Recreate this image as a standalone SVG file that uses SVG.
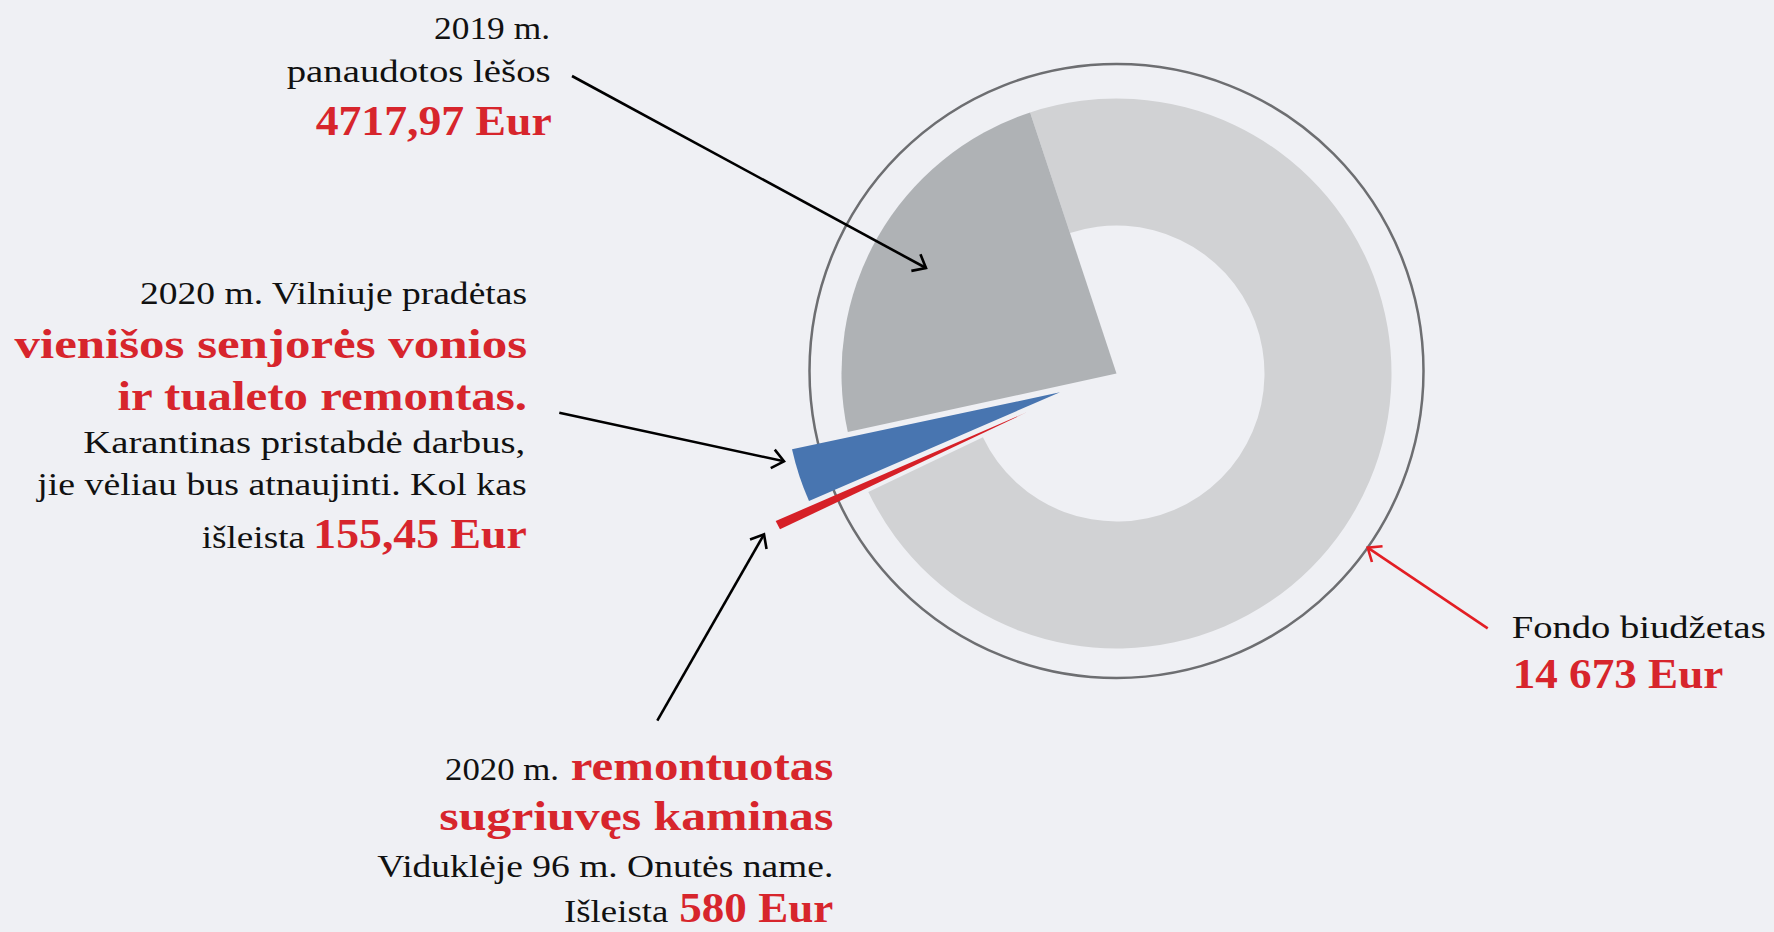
<svg xmlns="http://www.w3.org/2000/svg" width="1774" height="932" viewBox="0 0 1774 932">
  <style>
    .t { font-family: "Liberation Serif", "Times New Roman", serif; fill: #111111; font-size: 32px; }
    .r { font-family: "Liberation Serif", "Times New Roman", serif; fill: #d7252c; font-size: 43px; font-weight: bold; }
    .conn { fill: none; stroke-width: 2.6; }
    .blk { stroke: #000000; }
    .red { stroke: #e31e24; }
  </style>
  <defs>
    <marker id="ahBlack" viewBox="-14 -11 16 22" refX="0" refY="0" markerWidth="16" markerHeight="22" markerUnits="userSpaceOnUse" orient="auto" overflow="visible">
      <path d="M -11.5 -9.5 L 0 0 L -11.5 9.5" fill="none" stroke="#000000" stroke-width="2.6"/>
    </marker>
    <marker id="ahRed" viewBox="-14 -11 16 22" refX="0" refY="0" markerWidth="16" markerHeight="22" markerUnits="userSpaceOnUse" orient="auto" overflow="visible">
      <path d="M -11.5 -9.5 L 0 0 L -11.5 9.5" fill="none" stroke="#e31e24" stroke-width="2.6"/>
    </marker>
  </defs>
  <rect x="0" y="0" width="1774" height="932" fill="#eff0f4"/>

  <g id="budget-ring">
    <circle cx="1116.5" cy="371" r="307" fill="none" stroke="#6d6e71" stroke-width="2.5"/>
  </g>
  <g id="slice-remaining">
    <path d="M 1030.1 112.4 A 275 275 0 1 1 868.3 491.9 L 982.9 437.2 A 148 148 0 1 0 1070 233 Z" fill="#d1d2d4"/>
  </g>
  <g id="slice-2019">
    <path d="M 1116.5 373.5 L 847.8 432.1 A 275 275 0 0 1 1030.1 112.4 Z" fill="#afb2b5"/>
  </g>
  <g id="slice-vilnius">
    <path d="M 1060 392.3 L 792 449.3 A 274 274 0 0 0 809 501 Z" fill="#4875b0"/>
  </g>
  <g id="slice-chimney">
    <path d="M 1026.7 412.3 L 775.7 521 A 273 273 0 0 0 780 529.3 Z" fill="#d62027"/>
  </g>

  <g id="connectors">
    <line class="conn blk" x1="572" y1="76" x2="926" y2="268" marker-end="url(#ahBlack)"/>
    <line class="conn blk" x1="559.3" y1="412.7" x2="784" y2="461.3" marker-end="url(#ahBlack)"/>
    <line class="conn blk" x1="657.3" y1="720.7" x2="764" y2="534.3" marker-end="url(#ahBlack)"/>
    <line class="conn red" x1="1487.7" y1="628.3" x2="1367.7" y2="547.7" marker-end="url(#ahRed)"/>
  </g>

  <g id="label-2019">
    <text class="t" x="434" y="39.3" textLength="116" lengthAdjust="spacingAndGlyphs">2019 m.</text>
    <text class="t" x="286.7" y="81.7" textLength="264" lengthAdjust="spacingAndGlyphs">panaudotos lėšos</text>
    <text class="r" x="315.7" y="135" textLength="236" lengthAdjust="spacingAndGlyphs">4717,97 Eur</text>
  </g>

  <g id="label-vilnius">
    <text class="t" x="140" y="304.3" textLength="387" lengthAdjust="spacingAndGlyphs">2020 m. Vilniuje pradėtas</text>
    <text class="r" x="14.5" y="358.3" textLength="512.5" lengthAdjust="spacingAndGlyphs">vienišos senjorės vonios</text>
    <text class="r" x="117.5" y="410" textLength="409.5" lengthAdjust="spacingAndGlyphs">ir tualeto remontas.</text>
    <text class="t" x="83.3" y="453.3" textLength="442" lengthAdjust="spacingAndGlyphs">Karantinas pristabdė darbus,</text>
    <text class="t" x="37.3" y="495" textLength="489.4" lengthAdjust="spacingAndGlyphs">jie vėliau bus atnaujinti. Kol kas</text>
    <text class="t" x="201.7" y="548" textLength="103.3" lengthAdjust="spacingAndGlyphs">išleista</text>
    <text class="r" x="313.3" y="548" textLength="213.4" lengthAdjust="spacingAndGlyphs">155,45 Eur</text>
  </g>

  <g id="label-chimney">
    <text class="t" x="445" y="780" textLength="114" lengthAdjust="spacingAndGlyphs">2020 m.</text>
    <text class="r" x="570.7" y="780" textLength="262.6" lengthAdjust="spacingAndGlyphs">remontuotas</text>
    <text class="r" x="439.3" y="830" textLength="394" lengthAdjust="spacingAndGlyphs">sugriuvęs kaminas</text>
    <text class="t" x="377.3" y="876.7" textLength="456" lengthAdjust="spacingAndGlyphs">Viduklėje 96 m. Onutės name.</text>
    <text class="t" x="564" y="922" textLength="104.3" lengthAdjust="spacingAndGlyphs">Išleista</text>
    <text class="r" x="679.3" y="922" textLength="154" lengthAdjust="spacingAndGlyphs">580 Eur</text>
  </g>

  <g id="label-budget">
    <text class="t" x="1511.7" y="638.3" textLength="254" lengthAdjust="spacingAndGlyphs">Fondo biudžetas</text>
    <text class="r" x="1512.7" y="688.3" textLength="210.6" lengthAdjust="spacingAndGlyphs">14 673 Eur</text>
  </g>
</svg>
